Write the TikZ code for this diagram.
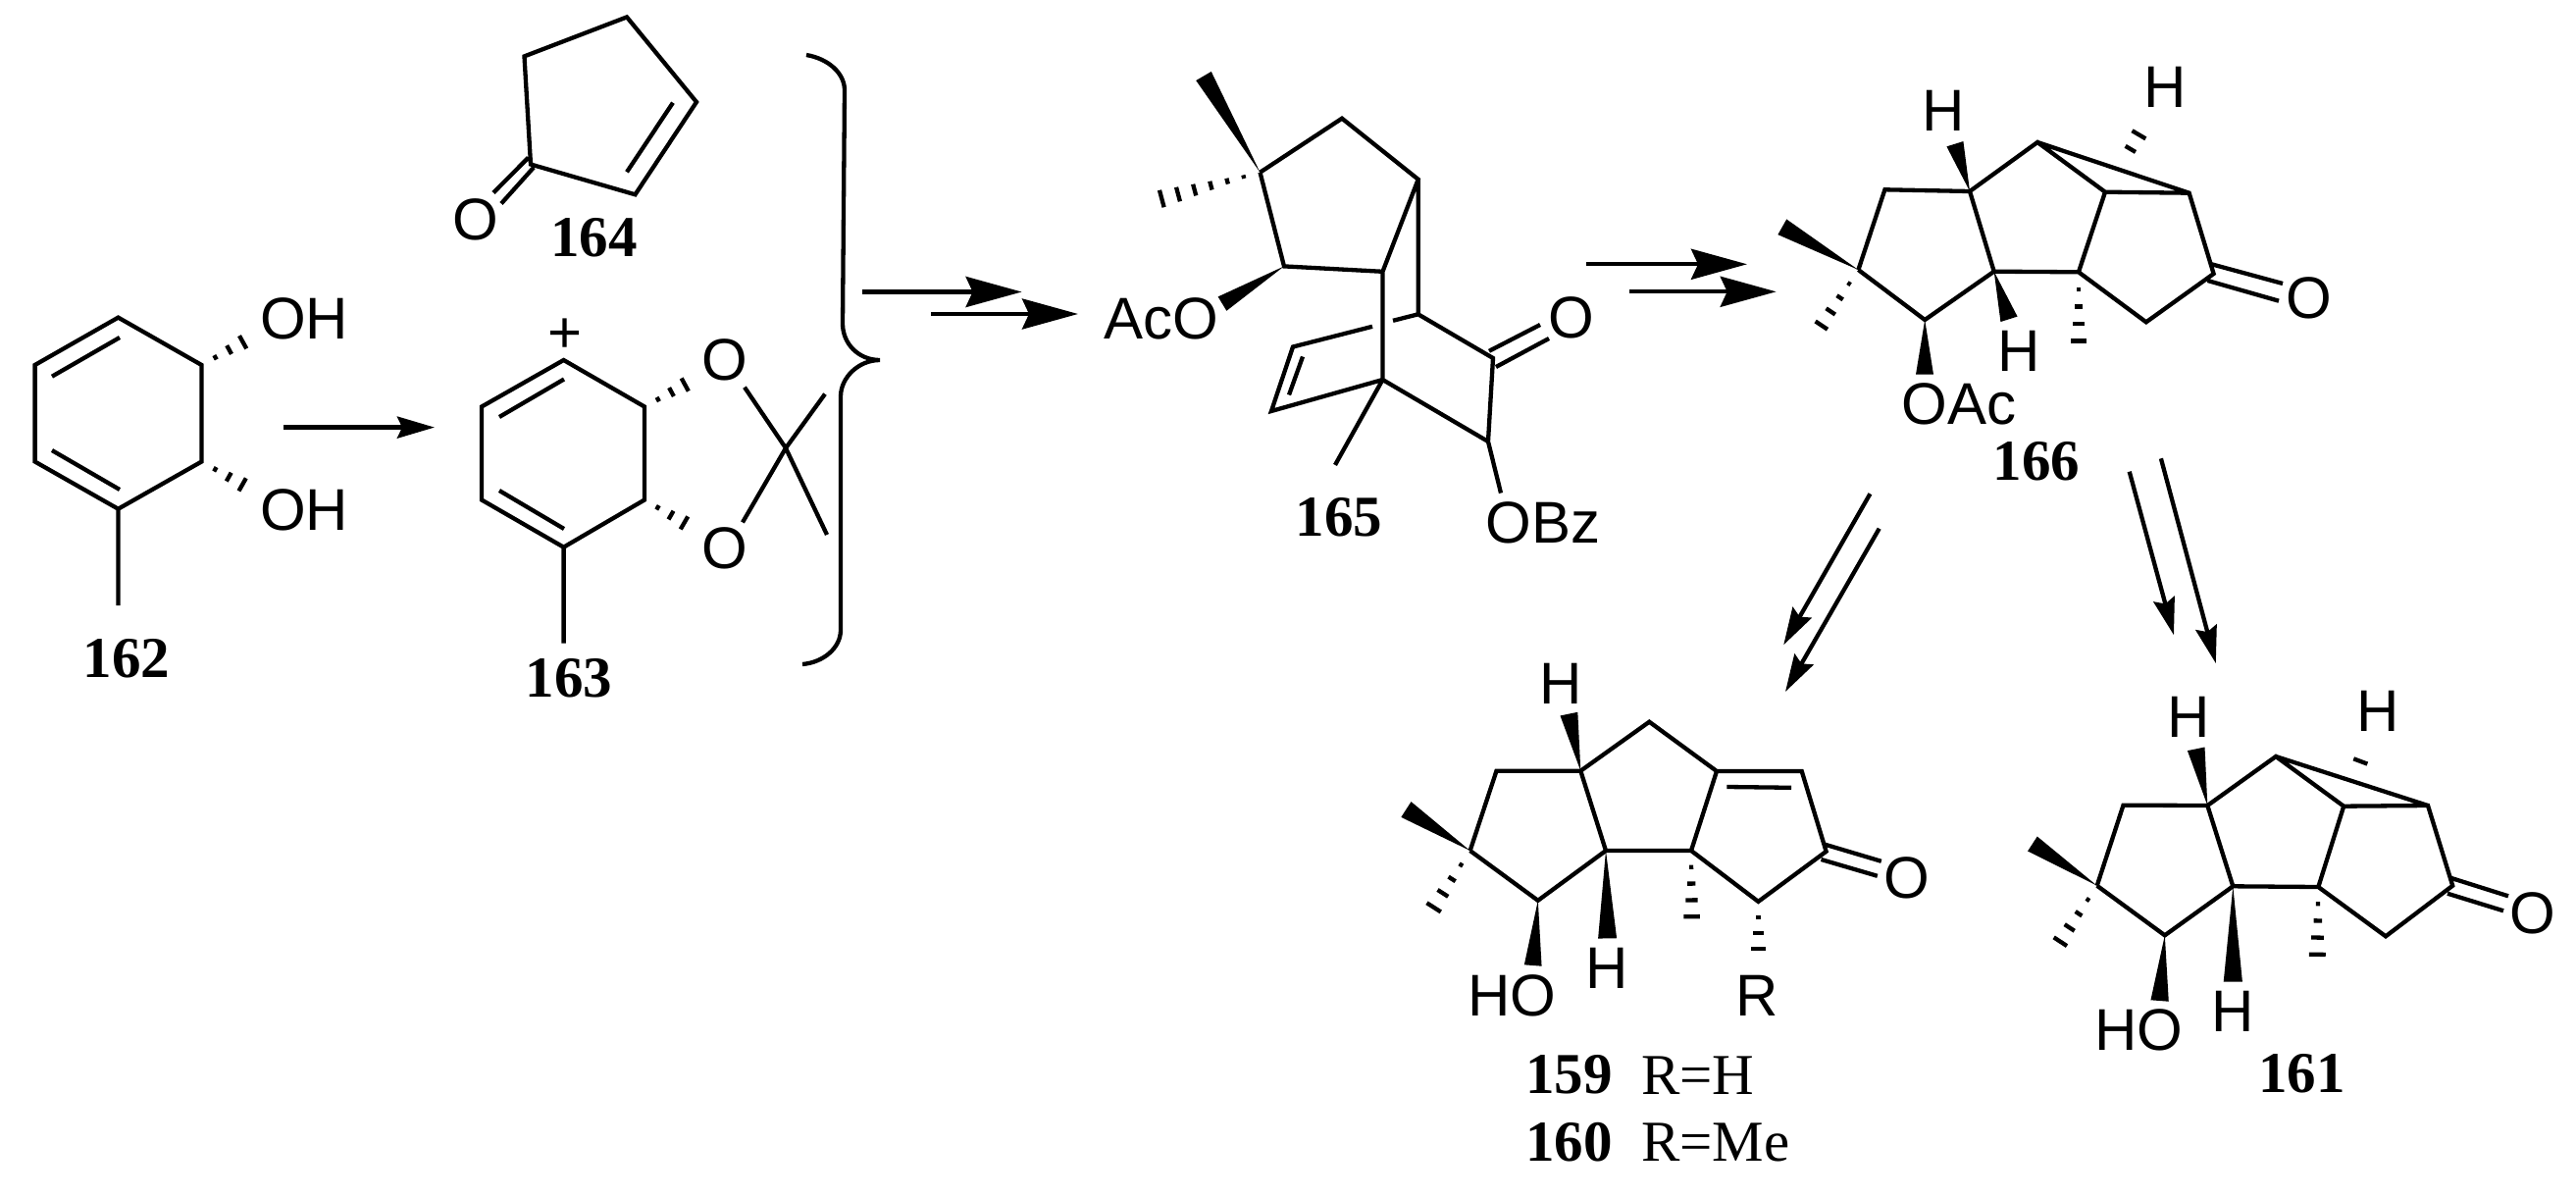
\documentclass[tikz,border=0pt]{standalone}
\usepackage{fontspec}
\setmainfont{Liberation Serif}
\newfontfamily\atomfont{Liberation Sans}
\usetikzlibrary{calc,arrows.meta}
\tikzset{
  bond/.style={line width=4.3pt,line join=miter,line cap=butt},
  hashbar/.style={line width=4.3pt},
  bracketline/.style={line width=4.3pt},
  atom/.style={font=\atomfont\fontsize{60}{62}\selectfont,inner sep=0pt,text=black},
  cmpd/.style={font=\bfseries\fontsize{59}{60}\selectfont,inner sep=0pt},
  note/.style={font=\fontsize{59}{60}\selectfont,inner sep=0pt},
  plus/.style={font=\atomfont\fontsize{60}{62}\selectfont,inner sep=0pt},
  bigarrow/.style={line width=4.3pt,-{Stealth[length=57pt,width=31pt,inset=7pt]}},
  smallarrow/.style={line width=4.3pt,-{Stealth[length=38pt,width=22pt,inset=5pt]}},
}
\newcommand{\wedgeb}[3]{\fill ($(#2)!#3pt!90:(#1)$) -- ($(#2)!#3pt!-90:(#1)$) -- (#1) -- cycle;}
\newcommand{\hashb}[5]{%
  \foreach \k in {#5,...,#4}{%
    \pgfmathsetmacro\tt{\k/#4}%
    \pgfmathsetmacro\hw{max(#3*\tt,1.8)}%
    \coordinate (hm) at ($(#1)!\tt!(#2)$);
    \draw[hashbar] ($(hm)!\hw pt!90:(#2)$) -- ($(hm)!\hw pt!-90:(#2)$);
  }}
\begin{document}
\begin{tikzpicture}[x=1pt,y=-1pt]
\useasboundingbox (0,0) rectangle (2626,1220);
\fill[white] (0,0) rectangle (2626,1220);

%% 162
\coordinate (p1) at (120.5,323.6); \coordinate (p2) at (205.5,372); \coordinate (p3) at (205.5,470.5);
\coordinate (p4) at (120.5,518.7); \coordinate (p5) at (35.6,470.5); \coordinate (p6) at (35.6,372);
\coordinate (pMe) at (120.5,617);
\coordinate (pd1) at (53,383.7); \coordinate (pd2) at (122,344);
\coordinate (pd3) at (53,459); \coordinate (pd4) at (122,499);
\coordinate (pH1) at (261.7,341); \coordinate (pH2) at (261,501.7);
\draw[bond] (p1)--(p2)--(p3)--(p4)--(p5)--(p6)--cycle (p4)--(pMe) (pd1)--(pd2) (pd3)--(pd4);
\hashb{p2}{pH1}{10}{4}{1}
\hashb{p3}{pH2}{10}{4}{1}
\node[atom] (OHa) at (310,324.5) {OH};
\node[atom] (OHb) at (310,519.6) {OH};
\node[cmpd] (n162) at (129,671) {162};

%% arrow 162 -> 163
\coordinate (a0s) at (289,435.6); \coordinate (a0e) at (443,435.6);
\draw[smallarrow] (a0s)--(a0e);

%% 163
\coordinate (q1) at (574.6,367); \coordinate (q2) at (657,414.5); \coordinate (q3) at (657,509.5);
\coordinate (q4) at (574.6,557.7); \coordinate (q5) at (491,509.5); \coordinate (q6) at (491,414.5);
\coordinate (qMe) at (574.6,655.5);
\coordinate (qd1) at (509,425); \coordinate (qd2) at (575,386.5);
\coordinate (qd3) at (509,500); \coordinate (qd4) at (575,539);
\coordinate (qHa) at (712,384.6); \coordinate (qHb) at (711,540.7);
\coordinate (qC) at (801,456.7);
\coordinate (qO1) at (759,394.7); \coordinate (qMe1) at (843,545);
\coordinate (qO2) at (757,532.4); \coordinate (qMe2) at (841,401.6);
\draw[bond] (q1)--(q2)--(q3)--(q4)--(q5)--(q6)--cycle (q4)--(qMe) (qd1)--(qd2) (qd3)--(qd4)
  (qO1)--(qC)--(qMe1) (qO2)--(qC)--(qMe2);
\hashb{q2}{qHa}{10}{4}{1}
\hashb{q3}{qHb}{10}{4}{1}
\node[plus] (plus163) at (576,342) {+};
\node[atom] (Oq1) at (739,367) {O};
\node[atom] (Oq2) at (739,558.6) {O};
\node[cmpd] (n163) at (580,691) {163};

%% 164
\coordinate (r1) at (541,167.5); \coordinate (r2) at (534.5,57.4); \coordinate (r3) at (639,17.4);
\coordinate (r4) at (710,104); \coordinate (r5) at (647.5,198.3);
\coordinate (rd1) at (686,104.7); \coordinate (rd2) at (639,175.3);
\coordinate (rc1) at (538.5,160.7); \coordinate (rc2) at (503,196.5);
\coordinate (rc3) at (544,170.7); \coordinate (rc4) at (511,207.5);
\draw[bond] (r1)--(r2)--(r3)--(r4)--(r5)--cycle (rd1)--(rd2) (rc1)--(rc2) (rc3)--(rc4);
\node[atom] (Or) at (485,223.5) {O};
\node[cmpd] (n164) at (605.6,242) {164};

%% bracket
\draw[bracketline] (822,56) .. controls (845,60) and (861,75) .. (861,92) -- (859,330)
  .. controls (859,350) and (875,367) .. (897,367)
  .. controls (875,367) and (857,385) .. (857,404) -- (857,642)
  .. controls (857,660) and (840,675) .. (818,677);

%% arrows to 165
\coordinate (a1s) at (879.4,297.5); \coordinate (a1e) at (1041.6,297.5);
\coordinate (a2s) at (949,320); \coordinate (a2e) at (1099,320);
\draw[bigarrow] (a1s)--(a1e);
\draw[bigarrow] (a2s)--(a2e);

%% 165
\coordinate (sA) at (1284.5,175.7); \coordinate (sB) at (1368,120.7); \coordinate (sC) at (1445.7,182.8);
\coordinate (sD) at (1309,271.4); \coordinate (sE) at (1409.5,276.8); \coordinate (sF) at (1445.7,320.3);
\coordinate (sG) at (1522,365); \coordinate (sH) at (1517,450); \coordinate (sI) at (1409.5,387);
\coordinate (sJ) at (1296,419); \coordinate (sK) at (1318,353.5);
\coordinate (sK2) at (1399,332.8); \coordinate (sF2) at (1420,326.8);
\coordinate (sd1) at (1328,363.5); \coordinate (sd2) at (1314,402.5);
\coordinate (sMe) at (1361,473.9); \coordinate (sOB) at (1530,502.5);
\coordinate (sc1) at (1518,357.8); \coordinate (sc2) at (1570,331);
\coordinate (sc3) at (1525,374); \coordinate (sc4) at (1579,345);
\coordinate (sW) at (1227,77.5); \coordinate (sHs) at (1167.6,207); \coordinate (sAc) at (1246,309.6);
\draw[bond] (sA)--(sB)--(sC)--(sE)--(sD)--(sA) (sC)--(sF)--(sG)--(sH)--(sI)--(sE)
  (sI)--(sJ)--(sK)--(sK2) (sF)--(sF2) (sd1)--(sd2) (sI)--(sMe) (sH)--(sOB) (sc1)--(sc2) (sc3)--(sc4);
\wedgeb{sA}{sW}{9}
\wedgeb{sD}{sAc}{8.4}
\hashb{sA}{sHs}{10.5}{7}{1}
\node[atom] (AcO) at (1184,324.6) {AcO};
\node[atom] (Os) at (1602,324) {O};
\node[atom] (OBz) at (1573,532.8) {OBz};
\node[cmpd] (n165) at (1365,527.5) {165};

%% arrows to 166
\coordinate (a3s) at (1616.8,269.3); \coordinate (a3e) at (1781,269.3);
\coordinate (a4s) at (1661,297.3); \coordinate (a4e) at (1810.7,297.3);
\draw[bigarrow] (a3s)--(a3e);
\draw[bigarrow] (a4s)--(a4e);

%% 166
\coordinate (ta) at (1894.4,275); \coordinate (tb) at (1921.4,193.3); \coordinate (tc) at (2008,195);
\coordinate (td) at (2077,145); \coordinate (te) at (2146,195.7); \coordinate (tf) at (2231.6,196.7);
\coordinate (tg) at (2256.6,279); \coordinate (th) at (2187.8,328.3); \coordinate (ti) at (2118.9,277.3);
\coordinate (tj) at (2032.7,276.7); \coordinate (tk) at (1962.2,326);
\coordinate (tc1) at (2254.6,269.3); \coordinate (tc2) at (2327,289);
\coordinate (tc3) at (2250.5,286); \coordinate (tc4) at (2323,306.7);
\coordinate (tw1) at (1816.8,231.3); \coordinate (tw2) at (1992.9,146.7);
\coordinate (tw3) at (2048,325.3); \coordinate (tw4) at (1962,381.7);
\coordinate (th1) at (2189,122.7); \coordinate (th2) at (1847.4,345.7); \coordinate (th3) at (2118.9,365);
\draw[bond] (ta)--(tb)--(tc)--(td)--(te)--(tf)--(tg)--(th)--(ti)--(te) (td)--(tf) (ti)--(tj)--(tc) (tj)--(tk)--(ta)
  (tc1)--(tc2) (tc3)--(tc4);
\wedgeb{ta}{tw1}{9}
\wedgeb{tc}{tw2}{8.9}
\wedgeb{tj}{tw3}{9}
\wedgeb{tk}{tw4}{9}
\hashb{te}{th1}{10}{5}{3}
\hashb{ta}{th2}{9.3}{5}{1}
\hashb{ti}{th3}{10.2}{5}{1}
\node[atom] (Hta) at (1981.6,113.3) {H};
\node[atom] (Htb) at (2207,89.3) {H};
\node[atom] (Htc) at (2057.7,358.3) {H};
\node[atom] (OAc) at (1997,411.7) {OAc};
\node[atom] (Ot) at (2354,304.3) {O};
\node[cmpd] (n166) at (2076,470) {166};

%% diagonal arrows
\coordinate (a5s) at (1906.4,503.3); \coordinate (a5e) at (1818.2,657.3);
\coordinate (a6s) at (1915.7,538.7); \coordinate (a6e) at (1820,705);
\coordinate (a7s) at (2170.7,480.7); \coordinate (a7e) at (2216,647.3);
\coordinate (a8s) at (2202.9,467.3); \coordinate (a8e) at (2258.8,676);
\draw[smallarrow] (a5s)--(a5e);
\draw[smallarrow] (a6s)--(a6e);
\draw[smallarrow] (a7s)--(a7e);
\draw[smallarrow] (a8s)--(a8e);

%% 159 / 160
\coordinate (ua) at (1498.6,867); \coordinate (ub) at (1525.5,785.7); \coordinate (uc) at (1611.3,785.7);
\coordinate (ud) at (1681.3,735.7); \coordinate (ue) at (1750,786); \coordinate (uf) at (1836.7,786);
\coordinate (ug) at (1861.6,867.8); \coordinate (uh) at (1792.4,918.9); \coordinate (ui) at (1724,867);
\coordinate (uj) at (1637,867); \coordinate (uk) at (1567.8,917.8);
\coordinate (ud1) at (1760.4,802); \coordinate (ud2) at (1826,802.8);
\coordinate (uc1) at (1860.4,860.7); \coordinate (uc2) at (1917.8,877.8);
\coordinate (uc3) at (1856.5,876); \coordinate (uc4) at (1913.8,892.8);
\coordinate (uw1) at (1433.4,825); \coordinate (uw2) at (1599.4,727.6);
\coordinate (uw3) at (1638.6,956.4); \coordinate (uw4) at (1562.7,984);
\coordinate (uh1) at (1452.4,939.3); \coordinate (uh2) at (1724.8,951); \coordinate (uh3) at (1792.4,983);
\draw[bond] (ua)--(ub)--(uc)--(ud)--(ue)--(uf)--(ug)--(uh)--(ui)--(ue) (ui)--(uj)--(uc) (uj)--(uk)--(ua)
  (ud1)--(ud2) (uc1)--(uc2) (uc3)--(uc4);
\wedgeb{ua}{uw1}{9.4}
\wedgeb{uc}{uw2}{9.1}
\wedgeb{uj}{uw3}{9.5}
\wedgeb{uk}{uw4}{8.9}
\hashb{ua}{uh1}{10.6}{5}{1}
\hashb{ui}{uh2}{10.3}{5}{1}
\hashb{uh}{uh3}{10.5}{4}{1}
\node[atom] (Hua) at (1591.5,696.4) {H};
\node[atom] (Hub) at (1637.8,986.8) {H};
\node[atom] (HOu) at (1541.3,1015) {HO};
\node[atom] (Ru) at (1791.2,1015) {R};
\node[atom] (Ou) at (1943.5,895) {O};
\node[cmpd] (n159) at (1599.4,1095.7) {159};
\node[cmpd] (n160) at (1599.4,1164) {160};
\node[note,anchor=west] (r159) at (1673,1095.7) {R=H};
\node[note,anchor=west] (r160) at (1673,1164) {R=Me};

%% 161
\coordinate (va) at (2137.7,902.7); \coordinate (vb) at (2164.5,820.7); \coordinate (vc) at (2250.3,821);
\coordinate (vd) at (2320,771); \coordinate (ve) at (2389.2,821.7); \coordinate (vf) at (2475,821);
\coordinate (vg) at (2500.2,902.7); \coordinate (vh) at (2432,954.3); \coordinate (vi) at (2363.3,904);
\coordinate (vj) at (2276.3,903.3); \coordinate (vk) at (2206.8,953.3);
\coordinate (vc1) at (2499,895); \coordinate (vc2) at (2557,913.3);
\coordinate (vc3) at (2495,910.7); \coordinate (vc4) at (2552,928.3);
\coordinate (vw1) at (2071.9,860); \coordinate (vw2) at (2238.7,763.3);
\coordinate (vw3) at (2276.3,1000.7); \coordinate (vw4) at (2201.6,1020);
\coordinate (vh1) at (2091,974); \coordinate (vh2) at (2362,990); \coordinate (vh3) at (2412,760.7);
\draw[bond] (va)--(vb)--(vc)--(vd)--(ve)--(vf)--(vg)--(vh)--(vi)--(ve) (vd)--(vf) (vi)--(vj)--(vc) (vj)--(vk)--(va)
  (vc1)--(vc2) (vc3)--(vc4);
\wedgeb{va}{vw1}{8.9}
\wedgeb{vc}{vw2}{9}
\wedgeb{vj}{vw3}{9.6}
\wedgeb{vk}{vw4}{9.2}
\hashb{va}{vh1}{10}{5}{1}
\hashb{vi}{vh2}{10.6}{5}{1}
\hashb{ve}{vh3}{10}{4}{3}
\node[atom] (Hva) at (2230.7,731) {H};
\node[atom] (Hvb) at (2424.4,725) {H};
\node[atom] (Hvc) at (2276.6,1030.7) {H};
\node[atom] (HOv) at (2180.4,1050) {HO};
\node[atom] (Ov) at (2582,930.7) {O};
\node[cmpd] (n161) at (2346.5,1094) {161};
\end{tikzpicture}
\end{document}
